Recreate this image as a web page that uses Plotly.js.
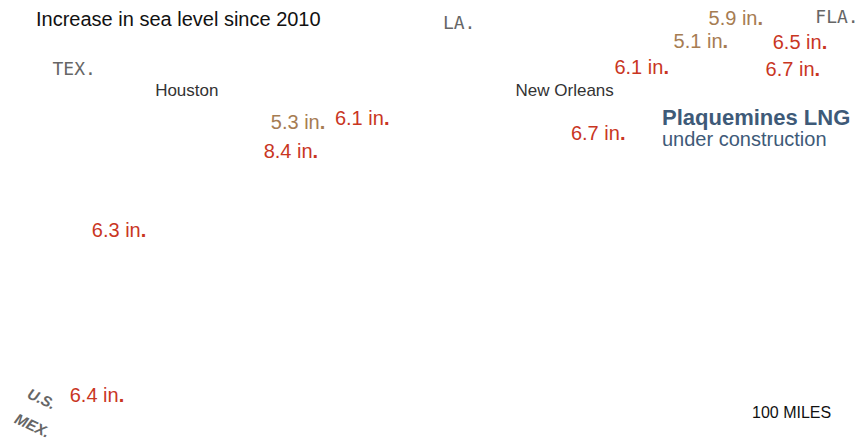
<!DOCTYPE html>
<html><head><meta charset="utf-8">
<script src="https://cdn.plot.ly/plotly-3.0.1.min.js"></script>
<style>html,body{margin:0;padding:0;background:#fff}#chart{width:865px;height:442px}</style>
</head><body><div id="chart"></div>
<script>
// Tide gauge stations: sea level increase since 2010 (inches)
const stationLon = [-87.70, -88.19, -86.80, -89.02, -86.90, -89.63, -93.84, -92.94, -93.94, -96.35, -96.66];
const stationLat = [30.68, 30.40, 30.39, 30.08, 30.06, 29.28, 29.41, 29.46, 29.06, 28.10, 26.08];
const riseInches = [5.9, 5.1, 6.5, 6.1, 6.7, 6.7, 5.3, 6.1, 8.4, 6.3, 6.4];
const riseGroup  = ['tan','tan','red','red','red','red','tan','red','red','red','red'];

const cityNames = ['Houston', 'New Orleans'];
const cityLon = [-95.40, -90.10];
const cityLat = [29.81, 29.81];

const stateNames = ['TEX.', 'LA.', 'FLA.'];
const stateLon = [-96.98, -91.58, -86.28];
const stateLat = [30.07, 30.63, 30.70];

const borderNames = ['U.S.', 'MEX.'];
const borderLon = [-97.44, -97.56];
const borderLat = [26.06, 25.73];

const siteName = 'Plaquemines LNG';
const siteNote = 'under construction';
const siteLon = -88.75;
const siteLat = [29.49, 29.235];

const titleText = 'Increase in sea level since 2010';
const scaleText = '100 MILES';

const RED = '#c9361f', TAN = '#a67c52';
const FONT = 'Liberation Sans, Arial, sans-serif';

function groupTrace(g, color) {
  const idx = riseInches.map((v,i)=>i).filter(i=>riseGroup[i]===g);
  return {
    type:'scatter', mode:'text',
    x: idx.map(i=>stationLon[i]), y: idx.map(i=>stationLat[i]),
    text: idx.map(i=>riseInches[i].toFixed(1)+' in<b>.</b>'),
    textposition:'middle center',
    textfont:{family:FONT, size:20, color:color},
    hoverinfo:'none', showlegend:false
  };
}

const traces = [
  groupTrace('red', RED),
  groupTrace('tan', TAN),
  {type:'scatter', mode:'text', x:cityLon, y:cityLat, text:cityNames,
   textposition:'middle center', textfont:{family:FONT, size:17, color:'#333'},
   hoverinfo:'none', showlegend:false},
  {type:'scatter', mode:'text', x:stateLon, y:stateLat, text:stateNames,
   textposition:'middle center', textfont:{family:'DejaVu Sans Mono, monospace', size:18, color:'#666'},
   hoverinfo:'none', showlegend:false}
];

const annotations = [
  {xref:'paper', yref:'paper', x:34/865, y:1-19/442, xanchor:'left', yanchor:'middle',
   text:titleText, showarrow:false, font:{family:FONT, size:20, color:'#111'}},
  {xref:'paper', yref:'paper', x:791/865, y:1-412/442, xanchor:'center', yanchor:'middle',
   text:scaleText, showarrow:false, font:{family:FONT, size:16, color:'#111'}},
  {x:siteLon, y:siteLat[0], xanchor:'left', yanchor:'middle', text:'<b>'+siteName+'</b>', borderpad:0,
   showarrow:false, font:{family:FONT, size:22, color:'#3e5a78'}},
  {x:siteLon, y:siteLat[1], xanchor:'left', yanchor:'middle', text:siteNote, borderpad:0,
   showarrow:false, font:{family:FONT, size:20, color:'#3e5a78'}}
];
borderNames.forEach((n,i)=>annotations.push({
  x:borderLon[i], y:borderLat[i], xanchor:'center', yanchor:'middle', text:'<b><i>'+n+'</i></b>',
  textangle:25, showarrow:false, borderpad:0, font:{family:FONT, size:15, color:'#666'}
}));

const layout = {
  width:865, height:442, margin:{l:0,r:0,t:0,b:0},
  paper_bgcolor:'#fff', plot_bgcolor:'#fff',
  xaxis:{range:[-98.02, -85.888], visible:false, fixedrange:true},
  yaxis:{range:[25.534, 30.924], visible:false, fixedrange:true},
  annotations: annotations
};
Plotly.newPlot('chart', traces, layout, {displayModeBar:false, staticPlot:true});
</script></body></html>
